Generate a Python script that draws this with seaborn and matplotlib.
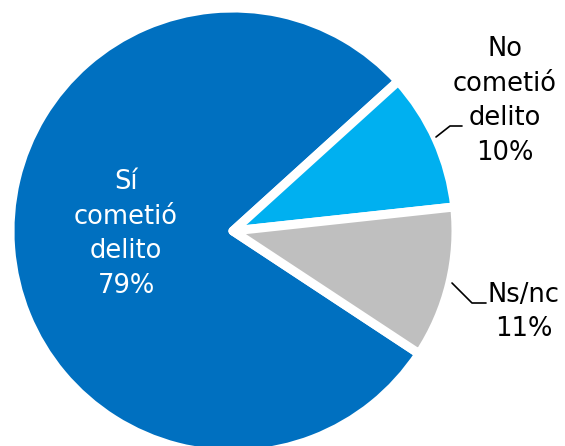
import matplotlib
matplotlib.use("Agg")
import matplotlib.pyplot as plt
import seaborn as sns

# data
categories = ["Sí\ncometió\ndelito", "No\ncometió\ndelito", "Ns/nc"]
values = [79, 10, 11]
colors = ["#0070C0", "#00B0F0", "#BFBFBF"]

sns.set_theme(style="white")
plt.rcParams['font.family'] = ['DejaVu Sans']

fig = plt.figure(figsize=(5.65, 4.46), dpi=100)
ax = fig.add_axes([0, 0, 1, 1])

# axes in pixel units, pie centre / radius in pixels
cx, cy, r = 233, 446 - 231, 223
wedges, _ = ax.pie(values, colors=colors, startangle=326.6, counterclock=False,
                   center=(cx, cy), radius=r,
                   wedgeprops=dict(edgecolor="white", linewidth=6.5, joinstyle="round"))
ax.set_xlim(0, 565)
ax.set_ylim(0, 446)
ax.set_aspect("equal")
ax.axis("off")

labels = [f"{c}\n{v}%" for c, v in zip(categories, values)]
fs = 18.5
ls = 1.42
ax.text(126, 446 - 234, labels[0], color="white", fontsize=fs, ha="center", va="center",
        linespacing=ls)
ax.text(505, 446 - 101, labels[1], color="black", fontsize=fs, ha="center", va="center",
        linespacing=ls)
ax.text(524, 446 - 312, labels[2], color="black", fontsize=fs, ha="center", va="center",
        linespacing=ls)

# leader lines
ax.plot([436, 450, 462], [446 - 137, 446 - 126, 446 - 126], color="black", lw=1.2)
ax.plot([452, 472, 486], [446 - 283, 446 - 303, 446 - 303], color="black", lw=1.2)

fig.savefig("out.png", dpi=100)
